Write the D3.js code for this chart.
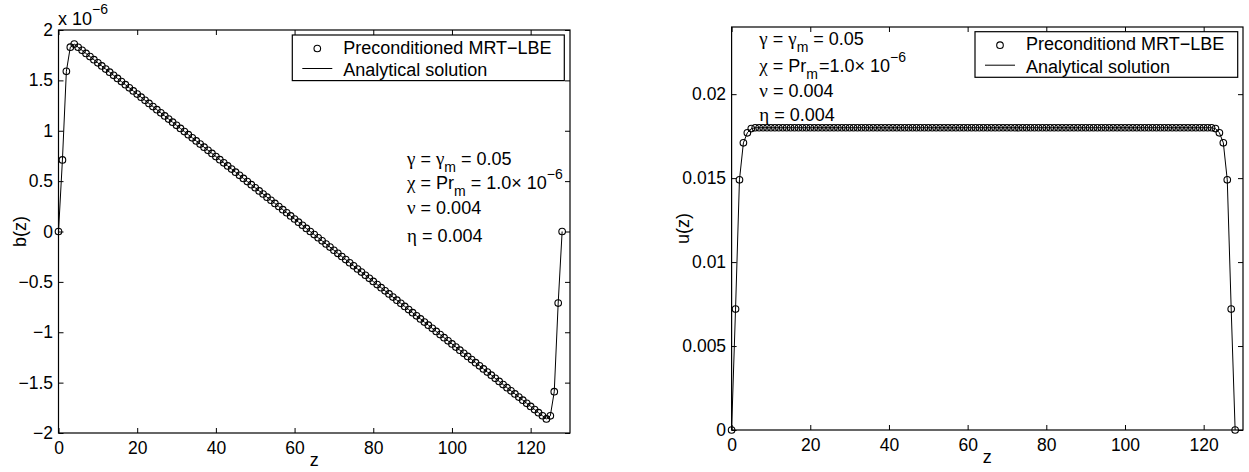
<!DOCTYPE html>
<html>
<head>
<meta charset="utf-8">
<script src="https://cdn.jsdelivr.net/npm/d3@7"></script>
<style>
  html, body { margin: 0; padding: 0; background: #fff; }
  svg { display: block; font-family: "Liberation Sans", Arial, Helvetica, sans-serif; }
  tspan.greek { font-family: "Liberation Serif", "Times New Roman", serif; }
</style>
</head>
<body>
<svg id="fig" width="1249" height="472"></svg>
<script>
// Lattice node positions across the channel (z = 0 ... 128)
const zNodes = d3.range(0, 129);

// Induced magnetic field b(z), in units of 1e-6
const bValues = [
  0, 0.71, 1.59, 1.83, 1.86,
  1.829, 1.798, 1.767, 1.736, 1.705, 1.674, 1.643, 1.612, 1.581, 1.550,
  1.519, 1.488, 1.457, 1.426, 1.395, 1.364, 1.333, 1.302, 1.271, 1.240,
  1.209, 1.178, 1.147, 1.116, 1.085, 1.054, 1.023, 0.992, 0.961, 0.930,
  0.899, 0.868, 0.837, 0.806, 0.775, 0.744, 0.713, 0.682, 0.651, 0.620,
  0.589, 0.558, 0.527, 0.496, 0.465, 0.434, 0.403, 0.372, 0.341, 0.310,
  0.279, 0.248, 0.217, 0.186, 0.155, 0.124, 0.093, 0.062, 0.031, 0,
  -0.031, -0.062, -0.093, -0.124, -0.155, -0.186, -0.217, -0.248, -0.279, -0.310,
  -0.341, -0.372, -0.403, -0.434, -0.465, -0.496, -0.527, -0.558, -0.589, -0.620,
  -0.651, -0.682, -0.713, -0.744, -0.775, -0.806, -0.837, -0.868, -0.899, -0.930,
  -0.961, -0.992, -1.023, -1.054, -1.085, -1.116, -1.147, -1.178, -1.209, -1.240,
  -1.271, -1.302, -1.333, -1.364, -1.395, -1.426, -1.457, -1.488, -1.519, -1.550,
  -1.581, -1.612, -1.643, -1.674, -1.705, -1.736, -1.767, -1.798, -1.829, -1.86,
  -1.83, -1.59, -0.71, 0
];

// Velocity profile u(z)
const uValues = [
  0, 0.0072, 0.0149, 0.0171, 0.0177, 0.01795,
  0.018, 0.018, 0.018, 0.018, 0.018, 0.018, 0.018, 0.018, 0.018, 0.018, 0.018, 0.018, 0.018,
  0.018, 0.018, 0.018, 0.018, 0.018, 0.018, 0.018, 0.018, 0.018, 0.018, 0.018, 0.018, 0.018,
  0.018, 0.018, 0.018, 0.018, 0.018, 0.018, 0.018, 0.018, 0.018, 0.018, 0.018, 0.018, 0.018,
  0.018, 0.018, 0.018, 0.018, 0.018, 0.018, 0.018, 0.018, 0.018, 0.018, 0.018, 0.018, 0.018,
  0.018, 0.018, 0.018, 0.018, 0.018, 0.018, 0.018, 0.018, 0.018, 0.018, 0.018, 0.018, 0.018,
  0.018, 0.018, 0.018, 0.018, 0.018, 0.018, 0.018, 0.018, 0.018, 0.018, 0.018, 0.018, 0.018,
  0.018, 0.018, 0.018, 0.018, 0.018, 0.018, 0.018, 0.018, 0.018, 0.018, 0.018, 0.018, 0.018,
  0.018, 0.018, 0.018, 0.018, 0.018, 0.018, 0.018, 0.018, 0.018, 0.018, 0.018, 0.018, 0.018,
  0.018, 0.018, 0.018, 0.018, 0.018, 0.018, 0.018, 0.018, 0.018, 0.018, 0.018, 0.018, 0.018,
  0.01795, 0.0177, 0.0171, 0.0149, 0.0072, 0
];

const xTicks = [0, 20, 40, 60, 80, 100, 120];
const bTicks = [-2, -1.5, -1, -0.5, 0, 0.5, 1, 1.5, 2];
const uTicks = [0, 0.005, 0.01, 0.015, 0.02];

const legendLeft = ["Preconditioned MRT\u2212LBE", "Analytical solution"];
const legendRight = ["Preconditiond MRT\u2212LBE", "Analytical solution"];

const svg = d3.select("#fig");
const TICK_FS = 17.5, TEXT_FS = 18, SMALL_FS = 14;
const minus = s => String(s).replace("-", "\u2212");

function drawPanel(cfg) {
  const g = svg.append("g");
  const x = d3.scaleLinear().domain([0, 130]).range([cfg.left, cfg.right]);
  const y = d3.scaleLinear().domain(cfg.yDomain).range([cfg.bottom, cfg.top]);

  const styleAxis = sel => {
    sel.select(".domain").remove();
    sel.selectAll(".tick line").attr("stroke", "#000").attr("stroke-width", 1);
    sel.selectAll(".tick text").attr("fill", "#000")
      .style("font-size", TICK_FS + "px")
      .style("font-family", "'Liberation Sans', Arial, sans-serif");
  };

  g.append("g").attr("transform", `translate(0,${cfg.bottom})`)
    .call(d3.axisBottom(x).tickValues(xTicks).tickSizeInner(-5).tickSizeOuter(0).tickPadding(8.6))
    .call(styleAxis);
  g.append("g").attr("transform", `translate(0,${cfg.top})`)
    .call(d3.axisTop(x).tickValues(xTicks).tickSizeInner(-5).tickSizeOuter(0).tickFormat(""))
    .call(styleAxis);
  g.append("g").attr("transform", `translate(${cfg.left},0)`)
    .call(d3.axisLeft(y).tickValues(cfg.yTicks).tickSizeInner(-5).tickSizeOuter(0)
      .tickPadding(5.5).tickFormat(cfg.yFormat))
    .call(styleAxis);
  g.append("g").attr("transform", `translate(${cfg.right},0)`)
    .call(d3.axisRight(y).tickValues(cfg.yTicks).tickSizeInner(-5).tickSizeOuter(0).tickFormat(""))
    .call(styleAxis);

  // axes box
  g.append("rect")
    .attr("x", cfg.left).attr("y", cfg.top)
    .attr("width", cfg.right - cfg.left).attr("height", cfg.bottom - cfg.top)
    .attr("fill", "none").attr("stroke", "#000").attr("stroke-width", 1.2);

  const pts = zNodes.map((z, i) => ({ z, v: cfg.values[i] }));

  // analytical profile
  g.append("path").datum(pts)
    .attr("fill", "none").attr("stroke", "#000").attr("stroke-width", 1)
    .attr("d", d3.line().x(d => x(d.z)).y(d => y(d.v)));

  // lattice solution markers
  g.append("g").selectAll("circle").data(pts).join("circle")
    .attr("cx", d => x(d.z)).attr("cy", d => y(d.v)).attr("r", 3.3)
    .attr("fill", "none").attr("stroke", "#000").attr("stroke-width", 1.1);

  // axis titles
  g.append("text")
    .attr("transform", `translate(${cfg.yLabelX},${(cfg.top + cfg.bottom) / 2}) rotate(-90)`)
    .attr("text-anchor", "middle").attr("dy", "0.35em")
    .style("font-size", TEXT_FS + "px").text(cfg.yLabel);
  g.append("text")
    .attr("x", (cfg.left + cfg.right) / 2).attr("y", cfg.bottom + 33)
    .attr("text-anchor", "middle")
    .style("font-size", TEXT_FS + "px").text("z");

  // legend
  const L = cfg.legend;
  const lg = g.append("g").attr("transform", `translate(${L.x},${L.y})`);
  lg.append("rect").attr("width", L.w).attr("height", 45.6)
    .attr("fill", "#fff").attr("stroke", "#000").attr("stroke-width", 1.2);
  lg.append("circle").attr("cx", 25).attr("cy", 13.5).attr("r", 3.3)
    .attr("fill", "none").attr("stroke", "#000").attr("stroke-width", 1.1);
  lg.append("line").attr("x1", 10).attr("x2", 40).attr("y1", 33.5).attr("y2", 33.5)
    .attr("stroke", "#000").attr("stroke-width", 1);
  lg.selectAll("text.entry").data(L.labels).join("text").attr("class", "entry")
    .attr("x", 51).attr("y", (d, i) => 18.6 + i * 22.5)
    .style("font-size", TEXT_FS + "px").text(d => d);

  return { g, x, y };
}

// text built from runs; a run may be greek, a subscript, a superscript,
// or return to the baseline after a subscript
function richText(parent, xPos, yPos, runs) {
  const t = parent.append("text").attr("x", xPos).attr("y", yPos)
    .style("font-size", TEXT_FS + "px");
  runs.forEach(r => {
    const span = t.append("tspan").text(r.t);
    if (r.greek) span.attr("class", "greek").style("font-size", (TEXT_FS + 1) + "px");
    if (r.s === "sub") span.attr("dy", r.dy || 7).style("font-size", SMALL_FS + "px");
    else if (r.s === "sup") span.attr("dy", -10).style("font-size", SMALL_FS + "px");
    if (r.back) span.attr("dy", r.back);
    if (r.dx !== undefined) span.attr("dx", r.dx);
  });
  return t;
}

// ---- left panel: b(z)
const left = drawPanel({
  left: 58.5, right: 570, top: 30, bottom: 433,
  yDomain: [-2, 2], yTicks: bTicks, values: bValues,
  yFormat: d => minus(d), yLabel: "b(z)", yLabelX: 20,
  legend: { x: 292.3, y: 35, w: 272, labels: legendLeft }
});

// exponent of the b axis
const ex = svg.append("text").attr("x", 58).attr("y", 25).style("font-size", TEXT_FS + "px");
ex.append("tspan").text("x 10");
ex.append("tspan").attr("dy", -11).style("font-size", SMALL_FS + "px").text("\u22126");

{
  const ax = 407, g = left.g;
  richText(g, ax, 165, [{ t: "\u03b3", greek: true }, { t: " = " }, { t: "\u03b3", greek: true },
    { t: "m", s: "sub" }, { t: " = 0.05", back: -7 }]);
  richText(g, ax, 189, [{ t: "\u03c7", greek: true }, { t: " = Pr" }, { t: "m", s: "sub" },
    { t: " = 1.0\u00d7 10", back: -7 }, { t: "\u22126", s: "sup" }]);
  richText(g, ax, 214, [{ t: "\u03bd", greek: true }, { t: " = 0.004" }]);
  richText(g, ax, 242, [{ t: "\u03b7", greek: true }, { t: " = 0.004" }]);
}

// ---- right panel: u(z)
const right = drawPanel({
  left: 731.6, right: 1243, top: 27, bottom: 430,
  yDomain: [0, 0.024], yTicks: uTicks, values: uValues,
  yFormat: d => String(d), yLabel: "u(z)", yLabelX: 683,
  legend: { x: 975, y: 31.7, w: 262.7, labels: legendRight }
});

{
  const ax = 759.3, g = right.g;
  richText(g, ax, 45, [{ t: "\u03b3", greek: true }, { t: " = " }, { t: "\u03b3", greek: true },
    { t: "m", s: "sub" }, { t: " = 0.05", back: -7 }]);
  richText(g, ax, 71.7, [{ t: "\u03c7", greek: true }, { t: " = Pr" }, { t: "m", s: "sub", dy: 7.5 },
    { t: "=1.0\u00d7 10", back: -7.5, dx: 1 }, { t: "\u22126", s: "sup" }]);
  richText(g, ax, 97, [{ t: "\u03bd", greek: true }, { t: " = 0.004" }]);
  richText(g, ax, 121, [{ t: "\u03b7", greek: true }, { t: " = 0.004" }]);
}
</script>
</body>
</html>
